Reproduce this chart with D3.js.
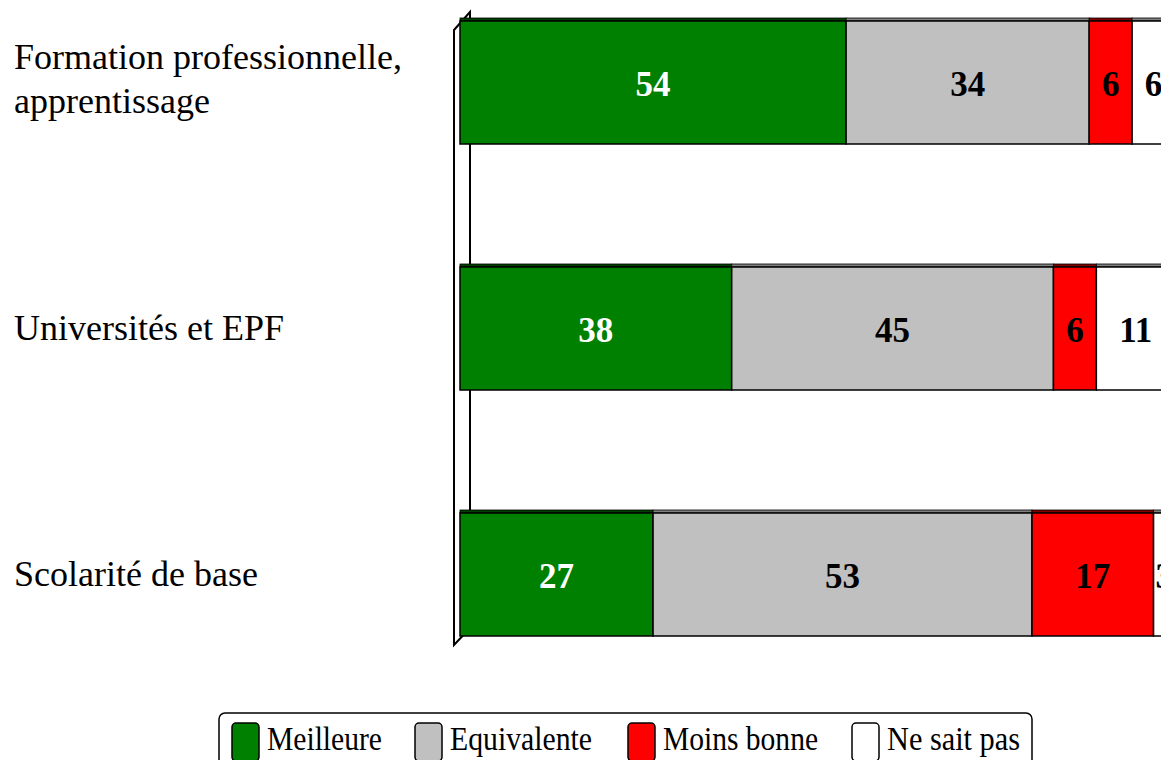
<!DOCTYPE html>
<html><head><meta charset="utf-8">
<script src="https://cdn.jsdelivr.net/npm/d3@7"></script>
<style>html,body{margin:0;padding:0;background:#fff;overflow:hidden}svg{display:block}</style>
</head><body>
<script>
const categories = ["Formation professionnelle,|apprentissage", "Universités et EPF", "Scolarité de base"];
const seriesNames = ["Meilleure", "Equivalente", "Moins bonne", "Ne sait pas"];
const meilleure = [54, 38, 27];
const equivalente = [34, 45, 53];
const moinsBonne = [6, 6, 17];
const neSaitPas = [6, 11, 3];
const colors = ["#008000", "#c0c0c0", "#ff0000", "#ffffff"];
const topColors = ["#004000", "#808080", "#800000", "#808080"];
const labelColors = ["#fff", "#000", "#000", "#000"];

const W = 1161, H = 760;
const svg = d3.select("body").append("svg").attr("width", W).attr("height", H);
const serif = "'Liberation Serif','Times New Roman',serif";

const x = d3.scaleLinear().domain([0, 100]).range([460, 1175]);
const y = d3.scaleBand().domain(categories).range([-40.5, 697.5]).paddingInner(0.5).paddingOuter(0.25);

// 3D wall
svg.append("path")
  .attr("d", "M454,30 L470,12 L470,628 L454,645 Z")
  .attr("fill", "#fff").attr("stroke", "#000").attr("stroke-width", 2);

const series = [meilleure, equivalente, moinsBonne, neSaitPas];
const stacked = categories.map((c, i) => {
  let acc = 0;
  return series.map((s, k) => { const d = {cat: c, k, v: s[i], x0: acc, x1: acc + s[i]}; acc += s[i]; return d; });
});

const g = svg.append("g");
stacked.forEach(row => {
  row.forEach(d => {
    const y0 = y(d.cat);
    g.append("rect").attr("x", x(d.x0)).attr("y", y0 - 3).attr("width", x(d.x1) - x(d.x0)).attr("height", 3)
      .attr("fill", topColors[d.k]).attr("stroke", "#000").attr("stroke-width", 0.8);
    g.append("rect").attr("x", x(d.x0)).attr("y", y0).attr("width", x(d.x1) - x(d.x0)).attr("height", y.bandwidth())
      .attr("fill", colors[d.k]).attr("stroke", "#000").attr("stroke-width", 1.5);
  });
  row.forEach(d => {
    g.append("text").attr("x", (x(d.x0) + x(d.x1)) / 2).attr("y", y(d.cat) + y.bandwidth() / 2 + 13)
      .attr("text-anchor", "middle").attr("font-family", serif).attr("font-weight", "bold")
      .attr("font-size", 35).attr("fill", labelColors[d.k]).text(d.v);
  });
});

// category labels
categories.forEach(c => {
  const lines = c.split("|");
  const cy = y(c) + y.bandwidth() / 2;
  const t = svg.append("text").attr("font-family", serif).attr("font-size", 36).attr("fill", "#000");
  lines.forEach((l, i) => {
    const by = lines.length > 1 ? cy - 14 + i * 44 : cy + 11;
    t.append("tspan").attr("x", 14).attr("y", by).text(l);
  });
});

// legend
svg.append("rect").attr("x", 219).attr("y", 713).attr("width", 813).attr("height", 70).attr("rx", 6)
  .attr("fill", "#fff").attr("stroke", "#000").attr("stroke-width", 1.5);
const legX = [232, 415, 628, 852];
const legW = [115, 142, 155, 133];
seriesNames.forEach((n, k) => {
  svg.append("rect").attr("x", legX[k]).attr("y", 723).attr("width", 27).attr("height", 38).attr("rx", 4)
    .attr("fill", colors[k]).attr("stroke", "#000").attr("stroke-width", 1.5);
  svg.append("text").attr("x", legX[k] + 35).attr("y", 750).attr("font-family", serif).attr("font-size", 33)
    .attr("textLength", legW[k]).attr("lengthAdjust", "spacingAndGlyphs").text(n);
});
</script>
</body></html>
